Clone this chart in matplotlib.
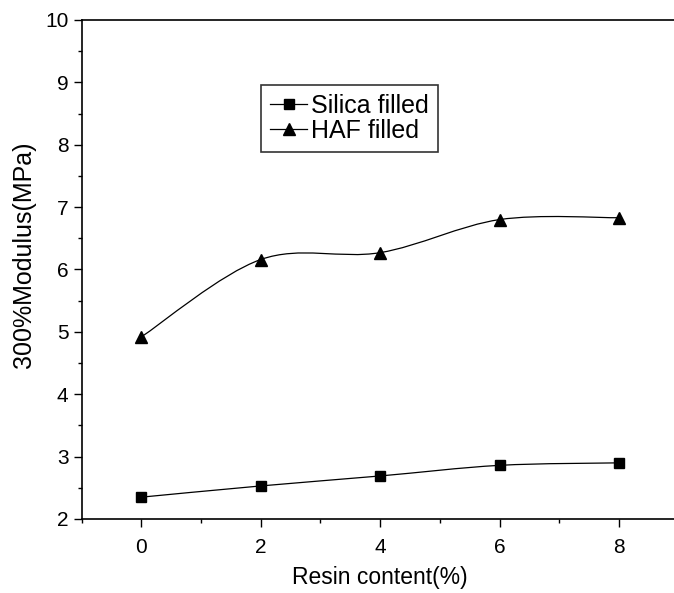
import matplotlib
matplotlib.use('Agg')
import matplotlib.pyplot as plt
from matplotlib.path import Path
from matplotlib.patches import PathPatch
from matplotlib.lines import Line2D
from matplotlib.ticker import MultipleLocator
import numpy as np

plt.rcParams['font.family'] = ['Liberation Sans', 'DejaVu Sans']

resin = [0, 2, 4, 6, 8]
silica = [2.35, 2.53, 2.69, 2.86, 2.90]
haf = [4.92, 6.16, 6.27, 6.80, 6.83]


def smooth_path(x, y):
    # Catmull-Rom through the points, drawn as cubic bezier segments
    x = np.asarray(x, float)
    y = np.asarray(y, float)
    pts = np.column_stack([x, y])
    verts = [pts[0]]
    codes = [Path.MOVETO]
    n = len(pts)
    for i in range(n - 1):
        p0 = pts[i - 1] if i > 0 else pts[i]
        p1 = pts[i]
        p2 = pts[i + 1]
        p3 = pts[i + 2] if i + 2 < n else pts[i + 1]
        c1 = p1 + (p2 - p0) / 6.0
        c2 = p2 - (p3 - p1) / 6.0
        verts += [c1, c2, p2]
        codes += [Path.CURVE4] * 3
    return Path(verts, codes)


fig = plt.figure(figsize=(6.74, 5.93), dpi=100)
ax = fig.add_axes([0.1212, 0.1248, 0.8856, 0.8415])

for yv, mk, ms in [(silica, 's', 7.5), (haf, '^', 8.5)]:
    ax.add_patch(PathPatch(smooth_path(resin, yv), facecolor='none',
                           edgecolor='black', lw=0.9))
    ax.plot(resin, yv, linestyle='none', marker=mk, color='black', markersize=ms)

ax.set_xlim(-1, 9)
ax.set_ylim(2, 10)
ax.xaxis.set_major_locator(MultipleLocator(2))
ax.xaxis.set_minor_locator(MultipleLocator(1))
ax.yaxis.set_major_locator(MultipleLocator(1))
ax.yaxis.set_minor_locator(MultipleLocator(0.5))
ax.tick_params(which='major', direction='out', length=6, width=1, labelsize=15,
               top=False, right=False)
ax.tick_params(axis='x', which='major', pad=8)
ax.tick_params(which='minor', direction='out', length=3, width=1,
               top=False, right=False)
for s in ax.spines.values():
    s.set_linewidth(1.2)

ax.set_xlabel('Resin content(%)', fontsize=16.5, labelpad=6)
ax.set_ylabel('300%Modulus(MPa)', fontsize=18)
ax.yaxis.set_label_coords(-0.077, 0.53)

handles = [Line2D([], [], color='black', lw=0.9, marker='s', markersize=7.5),
           Line2D([], [], color='black', lw=0.9, marker='^', markersize=8.5)]
leg = fig.legend(handles, ['Silica filled', 'HAF filled'], loc='upper left',
                 bbox_to_anchor=(261 / 674, 1 - 85 / 593), fontsize=18,
                 frameon=True, fancybox=False, edgecolor='black',
                 handlelength=1.5, handletextpad=0.15, borderpad=0.35,
                 borderaxespad=0, labelspacing=0.05)
leg.get_frame().set_linewidth(1.2)

plt.savefig('out.png', dpi=100)
plt.close()
